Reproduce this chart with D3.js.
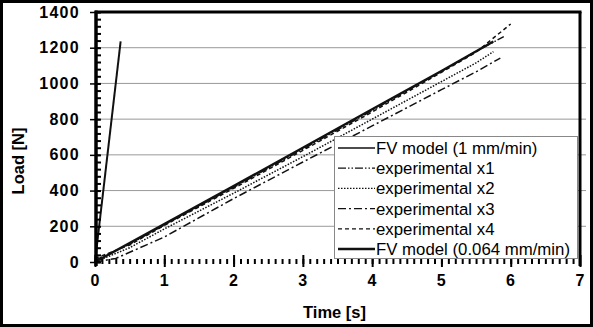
<!DOCTYPE html>
<html>
<head>
	<script src="https://cdnjs.cloudflare.com/ajax/libs/d3/7.8.2/d3.min.js"></script>
	<style>
		body { margin: 0 ; background: white ; }
		svg { display: block ; font-family: "Liberation Sans", Arial, sans-serif ; }
		.tick-label { font-weight: bold ; font-size: 16px ; letter-spacing: 1.3px ; }
		.axis-title { font-weight: bold ; font-size: 16.5px ; }
		.legend-text { font-size: 16.8px ; }
	</style>
</head>
<body>
	<svg id="canvas"></svg>
<script>
	// values: [time s, load N]
	let fv_fast = [ [0, 0], [0.37, 1235] ] ;
	let fv_slow = [ [0, 0], [1, 212], [2, 425], [3, 640], [4, 855], [5, 1070], [5.75, 1235] ] ;
	let exp_x1 = [ [0, 10], [0.5, 100], [1, 208], [2, 418], [3, 632], [4, 848], [5, 1068], [5.5, 1180], [5.9, 1262] ] ;
	let exp_x2 = [ [0, 0], [0.5, 80], [1, 185], [2, 385], [3, 590], [4, 800], [5, 1010], [5.5, 1115], [5.75, 1178] ] ;
	let exp_x3 = [ [0, 0], [0.3, 20], [1, 140], [2, 355], [3, 560], [4, 762], [5, 965], [5.5, 1065], [5.85, 1142] ] ;
	let exp_x4 = [ [0, 20], [0.5, 95], [1, 205], [2, 412], [3, 625], [4, 840], [5, 1062], [5.5, 1175], [6.0, 1333] ] ;

	let x_ticks = [0, 1, 2, 3, 4, 5, 6, 7] ;
	let y_ticks = [0, 200, 400, 600, 800, 1000, 1200, 1400] ;
	let grid_values = [200, 400, 600, 800, 1000, 1200] ;

	let legend_labels = [
		"FV model (1 mm/min)",
		"experimental x1",
		"experimental x2",
		"experimental x3",
		"experimental x4",
		"FV model (0.064 mm/min)"
	] ;

	let geom = {
		width: 593,
		height: 327,
		left: 95,
		right: 580,
		top: 12,
		bottom: 262
	} ;

	let scales = {
		x: d3.scaleLinear().domain( [0, 7] ).range( [geom.left, geom.right] ),
		y: d3.scaleLinear().domain( [0, 1400] ).range( [geom.bottom, geom.top] )
	} ;

	let svg = d3.select( '#canvas' )
		.attr( 'width', geom.width )
		.attr( 'height', geom.height ) ;

	// outer frame
	svg.append( 'rect' )
		.attr( 'x', 1.5 ).attr( 'y', 1.5 )
		.attr( 'width', geom.width - 3 ).attr( 'height', geom.height - 3 )
		.attr( 'fill', 'white' )
		.attr( 'stroke', 'black' )
		.attr( 'stroke-width', 3 ) ;

	// gridlines
	svg.append( 'g' )
		.selectAll( 'line' )
		.data( grid_values )
		.join( 'line' )
		.attr( 'x1', geom.left )
		.attr( 'x2', geom.right + 6 )
		.attr( 'y1', d => scales.y(d) )
		.attr( 'y2', d => scales.y(d) )
		.attr( 'stroke', '#999' )
		.attr( 'stroke-width', 1 ) ;

	// series
	let line = d3.line()
		.x( d => scales.x(d[0]) )
		.y( d => scales.y(d[1]) ) ;

	let series = [
		{ data: exp_x3, width: 1.5, dash: '8,3,2,3' },
		{ data: exp_x2, width: 1.5, dash: '1.5,1.5' },
		{ data: exp_x4, width: 1.5, dash: '4,3' },
		{ data: exp_x1, width: 1.5, dash: '8,2,1.5,2,1.5,2' },
		{ data: fv_slow, width: 2.4, dash: null },
		{ data: fv_fast, width: 2, dash: null }
	] ;

	svg.append( 'g' )
		.selectAll( 'path' )
		.data( series )
		.join( 'path' )
		.attr( 'd', d => line(d.data) )
		.attr( 'fill', 'none' )
		.attr( 'stroke', '#111' )
		.attr( 'stroke-width', d => d.width )
		.attr( 'stroke-dasharray', d => d.dash ) ;

	// frame: top and right borders
	svg.append( 'line' )
		.attr( 'x1', geom.left ).attr( 'x2', geom.right + 1.5 )
		.attr( 'y1', geom.top ).attr( 'y2', geom.top )
		.attr( 'stroke', 'black' ).attr( 'stroke-width', 3 ) ;
	svg.append( 'line' )
		.attr( 'x1', geom.right ).attr( 'x2', geom.right )
		.attr( 'y1', geom.top ).attr( 'y2', geom.bottom + 4 )
		.attr( 'stroke', 'black' ).attr( 'stroke-width', 3 ) ;

	// y axis
	let yaxis = svg.append( 'g' )
		.attr( 'transform', 'translate(' + (geom.left + 1) + ',0)' )
		.call( d3.axisRight( scales.y ).tickValues( d3.range( 0, 1401, 40 ) ).tickSize( 5 ).tickFormat( '' ) ) ;
	yaxis.select( '.domain' ).remove() ;
	yaxis.selectAll( '.tick line' ).attr( 'stroke-width', 2 ) ;

	let yaxis_major = svg.append( 'g' )
		.attr( 'transform', 'translate(' + (geom.left + 5) + ',0)' )
		.call( d3.axisLeft( scales.y ).tickValues( y_ticks ).tickSize( 10 ).tickPadding( 10 ).tickFormat( d3.format( 'd' ) ) ) ;
	yaxis_major.select( '.domain' ).remove() ;
	yaxis_major.selectAll( '.tick line' ).attr( 'stroke-width', 1.5 ) ;
	yaxis_major.selectAll( '.tick text' ).attr( 'class', 'tick-label' ).attr( 'fill', 'black' ) ;

	svg.append( 'line' )
		.attr( 'x1', geom.left + 1 ).attr( 'x2', geom.left + 1 )
		.attr( 'y1', geom.top - 1.5 ).attr( 'y2', geom.bottom + 4 )
		.attr( 'stroke', 'black' ).attr( 'stroke-width', 3.5 ) ;

	// x axis: minor dashes plus major ticks, no continuous line
	let xaxis = svg.append( 'g' )
		.attr( 'transform', 'translate(0,' + (geom.bottom - 3) + ')' )
		.call( d3.axisBottom( scales.x ).tickValues( d3.range( 0.1, 7, 0.1 ) ).tickSize( 5 ).tickFormat( '' ) ) ;
	xaxis.select( '.domain' ).remove() ;
	xaxis.selectAll( '.tick line' ).attr( 'stroke-width', 2 ) ;

	let xaxis_major = svg.append( 'g' )
		.attr( 'transform', 'translate(0,' + (geom.bottom - 7) + ')' )
		.call( d3.axisBottom( scales.x ).tickValues( x_ticks ).tickSize( 12 ).tickPadding( 8 ).tickFormat( d3.format( 'd' ) ) ) ;
	xaxis_major.select( '.domain' ).remove() ;
	xaxis_major.selectAll( '.tick line' ).attr( 'stroke-width', 2 ) ;
	xaxis_major.selectAll( '.tick text' ).attr( 'class', 'tick-label' ).attr( 'fill', 'black' ) ;

	// axis titles
	svg.append( 'text' )
		.attr( 'class', 'axis-title' )
		.attr( 'x', (scales.x(0) + scales.x(7)) / 2 - 3 )
		.attr( 'y', 318 )
		.attr( 'text-anchor', 'middle' )
		.text( 'Time [s]' ) ;

	svg.append( 'text' )
		.attr( 'class', 'axis-title' )
		.attr( 'transform', 'translate(24,' + 161 + ') rotate(-90)' )
		.attr( 'text-anchor', 'middle' )
		.text( 'Load [N]' ) ;

	// legend
	let legend = svg.append( 'g' ) ;
	legend.append( 'rect' )
		.attr( 'x', 334.5 ).attr( 'y', 136.5 )
		.attr( 'width', 243 ).attr( 'height', 122 )
		.attr( 'fill', 'white' )
		.attr( 'stroke', '#888' ) ;

	let legend_styles = [
		{ width: 1.3, dash: null },
		{ width: 1.3, dash: '8,2,1.5,2,1.5,2' },
		{ width: 1.3, dash: '1.5,1.5' },
		{ width: 1.3, dash: '8,3,2,3' },
		{ width: 1.3, dash: '4,3' },
		{ width: 2.4, dash: null }
	] ;

	let rows = legend.selectAll( 'g.row' )
		.data( legend_labels )
		.join( 'g' )
		.attr( 'class', 'row' )
		.attr( 'transform', (d, i) => 'translate(0,' + (148 + i * 20.2) + ')' ) ;

	rows.append( 'line' )
		.attr( 'x1', 338 ).attr( 'x2', 375 )
		.attr( 'y1', 0 ).attr( 'y2', 0 )
		.attr( 'stroke', '#111' )
		.attr( 'stroke-width', (d, i) => legend_styles[i].width )
		.attr( 'stroke-dasharray', (d, i) => legend_styles[i].dash ) ;

	rows.append( 'text' )
		.attr( 'class', 'legend-text' )
		.attr( 'x', 376 )
		.attr( 'y', 6 )
		.text( d => d ) ;
</script>
</body>
</html>
